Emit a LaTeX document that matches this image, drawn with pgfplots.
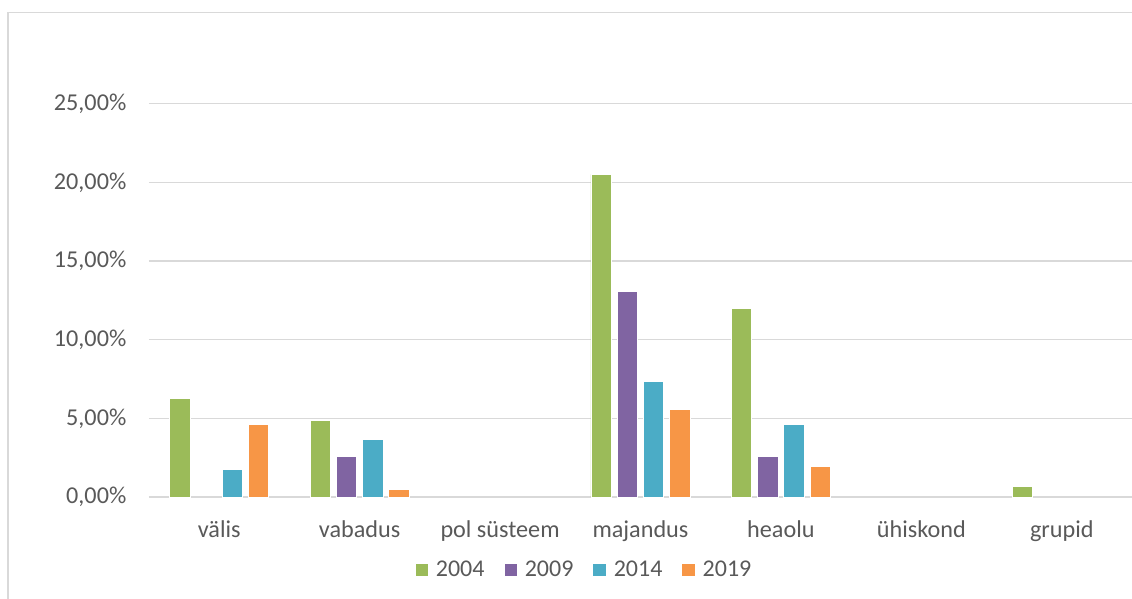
\documentclass[border=0pt]{standalone}
\usepackage{fontspec}
\setmainfont{Carlito}
\usepackage{pgfplots}
\pgfplotsset{compat=1.18}
\definecolor{c04}{HTML}{9BBB59}
\definecolor{c09}{HTML}{8064A2}
\definecolor{c14}{HTML}{4BACC6}
\definecolor{c19}{HTML}{F79646}
\definecolor{txt}{HTML}{595959}
\definecolor{gridc}{HTML}{D9D9D9}

\begin{document}
\begin{tikzpicture}
\useasboundingbox (0,0) rectangle (566pt,-299.5pt);
% chart frame (only left and top edges fall inside the picture)
\draw[gridc, line width=0.75pt] (4pt,-320pt) -- (4pt,-6.35pt) -- (600pt,-6.35pt);
\begin{axis}[
  at={(74.5pt,-248.5pt)}, anchor=south west,
  scale only axis, width=491.5pt, height=196.65pt,
  ybar=2.9pt, bar width=10.2pt,
  xmin=-0.5, xmax=6.5, ymin=0, ymax=25,
  xtick={0,...,6},
  xticklabels={välis,vabadus,pol süsteem,majandus,heaolu,ühiskond,grupid},
  ytick={0,5,10,15,20,25},
  yticklabels={{0,00\%},{5,00\%},{10,00\%},{15,00\%},{20,00\%},{25,00\%}},
  major tick length=0pt,
  ymajorgrids, grid style={gridc, line width=0.65pt},
  axis y line*=left, y axis line style={draw=none},
  axis x line*=bottom, x axis line style={gridc, line width=0.75pt},
  tick label style={font=\fontsize{12.1}{14}\selectfont, text=txt, inner sep=0pt},
  yticklabel style={anchor=east, xshift=-11.15pt},
  xticklabel style={anchor=base, yshift=-20pt},
  legend columns=4,
  legend style={at={(0.4415,-0.1856)}, anchor=center, draw=none, fill=none,
    font=\fontsize{12}{14}\selectfont, text=txt, inner sep=0pt,
    nodes={inner sep=0pt},
    /tikz/every odd column/.append style={column sep=3.5pt},
    /tikz/every even column/.append style={column sep=9.5pt}},
  legend image code/.code={\fill[#1] (0pt,-3.4pt) rectangle (6.75pt,3.4pt);},
  every axis plot/.append style={draw=white, line width=0.4pt},
]
\addplot[fill=c04] coordinates {(0,6.25) (1,4.85) (3,20.51) (4,11.97) (6,0.66)};
\addplot[fill=c09] coordinates {(1,2.56) (3,13.08) (4,2.56)};
\addplot[fill=c14] coordinates {(0,1.78) (1,3.66) (3,7.37) (4,4.60)};
\addplot[fill=c19] coordinates {(0,4.60) (1,0.47) (3,5.57) (4,1.97)};
\legend{2004,2009,2014,2019}
\end{axis}
\end{tikzpicture}
\end{document}
